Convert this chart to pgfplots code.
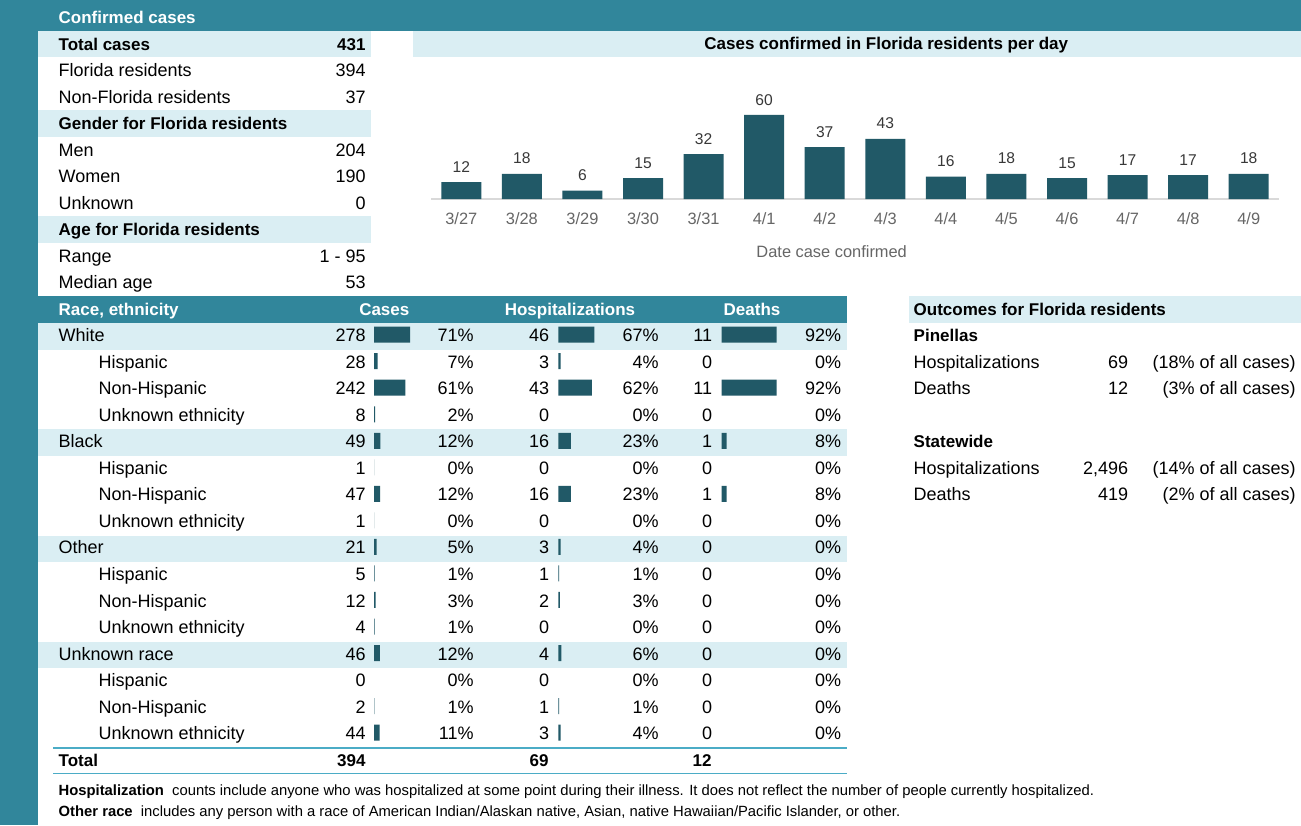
\documentclass[border=0pt]{standalone}
\usepackage{fontspec}
\setmainfont{Liberation Sans}
\usepackage{pgfplots}
\usepackage{pgfplotstable}
\pgfplotsset{compat=1.18}
\definecolor{teal1}{HTML}{31869B}
\definecolor{light1}{HTML}{DAEEF3}
\definecolor{bar1}{HTML}{215967}
\definecolor{line1}{HTML}{4BACC6}
\definecolor{tickgray}{HTML}{666666}
\definecolor{lab}{HTML}{383838}
\definecolor{basegray}{HTML}{D9D9D9}
\newcommand\rf{\fontsize{9}{10}\selectfont}
\newcommand\hb{\fontsize{8.5}{10}\selectfont\bfseries}
\newcommand\fn{\fontsize{7.4}{8}\selectfont}

\pgfplotstableread{
idx n
0 12
1 18
2 6
3 15
4 32
5 60
6 37
7 43
8 16
9 18
10 15
11 17
12 17
13 18
}\dailydata

\pgfplotstableread{
row cases hosp deaths
0 278 46 11
1 28 3 0
2 242 43 11
3 8 0 0
4 49 16 1
5 1 0 0
6 47 16 1
7 1 0 0
8 21 3 0
9 5 1 0
10 12 2 0
11 4 0 0
12 46 4 0
13 0 0 0
14 2 1 0
15 44 3 0
}\racedata

\pgfplotsset{minibar/.style={xbar, bar width=8pt, bar shift=0pt, scale only axis,
  height=212.25pt, ymin=-0.5, ymax=15.5, y dir=reverse, xmin=0, enlargelimits=false,
  hide axis, anchor=north west, clip=false,
  x filter/.expression={x==0 ? nan : x}}}

\begin{document}
\begin{tikzpicture}
\begin{scope}[x=0.5pt,y=-0.5pt,every node/.style={inner sep=0pt}]
% background and frame bands
\fill[white] (0,0) rectangle (1301,825);
\fill[teal1] (0,0) rectangle (1301,30.7);
\fill[teal1] (0,0) rectangle (38,825);
\fill[light1] (38,30.7) rectangle (371,56.7);
\fill[light1] (38,110) rectangle (371,136.5);
\fill[light1] (38,216) rectangle (371,242.5);
\fill[light1] (413.3,30.7) rectangle (1301,57);
\fill[teal1] (38,296) rectangle (847,322.5);
\foreach \k in {0,4,8,12}{
  \pgfmathsetmacro\yy{341.7+26.53*\k}
  \fill[light1] (38,\yy-18.4) rectangle (847,\yy+8.1);
}
\fill[light1] (909.3,296) rectangle (1301,322.5);
% top summary
\node[anchor=base west,text=white,font=\hb] at (58.3,23.3) {Confirmed cases};
\node[anchor=base west,font=\hb] at (58.3,50.3) {Total cases};
\node[anchor=base east,font=\hb] at (366,50.3) {431};
\node[anchor=base west,font=\rf] at (58.3,76.8) {Florida residents};
\node[anchor=base east,font=\rf] at (366,76.8) {394};
\node[anchor=base west,font=\rf] at (58.3,103.3) {Non-Florida residents};
\node[anchor=base east,font=\rf] at (366,103.3) {37};
\node[anchor=base west,font=\hb] at (58.3,129.8) {Gender for Florida residents};
\node[anchor=base west,font=\rf] at (58.3,156.3) {Men};
\node[anchor=base east,font=\rf] at (366,156.3) {204};
\node[anchor=base west,font=\rf] at (58.3,182.8) {Women};
\node[anchor=base east,font=\rf] at (366,182.8) {190};
\node[anchor=base west,font=\rf] at (58.3,209.3) {Unknown};
\node[anchor=base east,font=\rf] at (366,209.3) {0};
\node[anchor=base west,font=\hb] at (58.3,235.8) {Age for Florida residents};
\node[anchor=base west,font=\rf] at (58.3,262.3) {Range};
\node[anchor=base east,font=\rf] at (366,262.3) {1 - 95};
\node[anchor=base west,font=\rf] at (58.3,288.8) {Median age};
\node[anchor=base east,font=\rf] at (366,288.8) {53};
% chart title
\node[anchor=base,font=\hb] at (886.3,49.3) {Cases confirmed in Florida residents per day};
% race table header
\node[anchor=base west,text=white,font=\hb] at (58.3,315.7) {Race, ethnicity};
\node[anchor=base,text=white,font=\hb] at (384.3,315.7) {Cases};
\node[anchor=base,text=white,font=\hb] at (570,315.7) {Hospitalizations};
\node[anchor=base,text=white,font=\hb] at (752,315.7) {Deaths};
\foreach \k/\nm/\ind/\c/\cp/\h/\hp/\d/\dp in {
0/White/0/278/71/46/67/11/92,
1/Hispanic/1/28/7/3/4/0/0,
2/Non-Hispanic/1/242/61/43/62/11/92,
3/Unknown ethnicity/1/8/2/0/0/0/0,
4/Black/0/49/12/16/23/1/8,
5/Hispanic/1/1/0/0/0/0/0,
6/Non-Hispanic/1/47/12/16/23/1/8,
7/Unknown ethnicity/1/1/0/0/0/0/0,
8/Other/0/21/5/3/4/0/0,
9/Hispanic/1/5/1/1/1/0/0,
10/Non-Hispanic/1/12/3/2/3/0/0,
11/Unknown ethnicity/1/4/1/0/0/0/0,
12/Unknown race/0/46/12/4/6/0/0,
13/Hispanic/1/0/0/0/0/0/0,
14/Non-Hispanic/1/2/1/1/1/0/0,
15/Unknown ethnicity/1/44/11/3/4/0/0}{
  \pgfmathsetmacro\yy{341.7+26.53*\k}
  \pgfmathsetmacro\xx{\ind==1 ? 98.3 : 58.3}
  \node[anchor=base west,font=\rf] at (\xx,\yy) {\nm};
  \node[anchor=base east,font=\rf] at (366,\yy) {\c};
  \node[anchor=base east,font=\rf] at (474,\yy) {\cp\%};
  \node[anchor=base east,font=\rf] at (549.5,\yy) {\h};
  \node[anchor=base east,font=\rf] at (659,\yy) {\hp\%};
  \node[anchor=base east,font=\rf] at (712.5,\yy) {\d};
  \node[anchor=base east,font=\rf] at (841.5,\yy) {\dp\%};
}
% totals
\draw[line1,line width=0.8pt] (53,747.7) -- (847,747.7);
\draw[line1,line width=0.8pt] (53,773.5) -- (847,773.5);
\node[anchor=base west,font=\hb] at (58.3,766.7) {Total};
\node[anchor=base east,font=\hb] at (366,766.7) {394};
\node[anchor=base east,font=\hb] at (549,766.7) {69};
\node[anchor=base east,font=\hb] at (712,766.7) {12};
% footnotes
\node[anchor=base west,font=\fn] at (58.3,795) {\textbf{Hospitalization}\ \ counts include anyone who was hospitalized at some point during their illness. It does not reflect the number of people currently hospitalized.};
\node[anchor=base west,font=\fn] at (58.3,816) {\textbf{Other race}\ \ includes any person with a race of American Indian/Alaskan native, Asian, native Hawaiian/Pacific Islander, or other.};
% outcomes
\node[anchor=base west,font=\hb] at (913.3,315.7) {Outcomes for Florida residents};
\node[anchor=base west,font=\hb] at (913.3,341.7) {Pinellas};
\node[anchor=base west,font=\rf] at (913.3,368.2) {Hospitalizations};
\node[anchor=base east,font=\rf] at (1128.5,368.2) {69};
\node[anchor=base east,font=\rf] at (1296,368.2) {(18\% of all cases)};
\node[anchor=base west,font=\rf] at (913.3,394.8) {Deaths};
\node[anchor=base east,font=\rf] at (1128.5,394.8) {12};
\node[anchor=base east,font=\rf] at (1296,394.8) {(3\% of all cases)};
\node[anchor=base west,font=\hb] at (913.3,447.8) {Statewide};
\node[anchor=base west,font=\rf] at (913.3,474.4) {Hospitalizations};
\node[anchor=base east,font=\rf] at (1128.5,474.4) {2,496};
\node[anchor=base east,font=\rf] at (1296,474.4) {(14\% of all cases)};
\node[anchor=base west,font=\rf] at (913.3,500.9) {Deaths};
\node[anchor=base east,font=\rf] at (1128.5,500.9) {419};
\node[anchor=base east,font=\rf] at (1296,500.9) {(2\% of all cases)};
\end{scope}

% daily bar chart
\begin{axis}[at={(215.5pt,-99.5pt)}, anchor=south west, scale only axis,
  width=424pt, height=42pt, xmin=-0.5, xmax=13.5, ymin=0, ymax=60,
  ybar, bar width=20pt, bar shift=0pt,
  axis x line*=bottom, axis y line=none,
  x axis line style={draw=basegray, line width=1pt},
  xtick={0,...,13},
  xticklabels={3/27,3/28,3/29,3/30,3/31,4/1,4/2,4/3,4/4,4/5,4/6,4/7,4/8,4/9},
  major tick length=0pt,
  xticklabel style={anchor=base, inner sep=0pt, yshift=-12.5pt, font=\fontsize{8.2}{9}\selectfont, text=tickgray},
  ytick=\empty,
  nodes near coords,
  every node near coord/.append style={anchor=south, inner sep=0pt, yshift=4.7pt, font=\fontsize{7.8}{8}\selectfont, text=lab},
  /pgf/number format/assume math mode=true,
  xlabel={Date case confirmed},
  xlabel style={at={(axis description cs:0.4725,0)}, anchor=base, inner sep=0pt, yshift=-29.1pt, font=\fontsize{8.2}{9}\selectfont, text=tickgray},
  clip=false]
\addplot[fill=bar1, draw=none] table[x=idx, y=n] {\dailydata};
\end{axis}

% mini bars
\begin{axis}[minibar, at={(187pt,-160.7pt)}, width=18pt, xmax=278]
\addplot[fill=bar1, draw=none] table[x=cases, y=row] {\racedata};
\end{axis}
\begin{axis}[minibar, at={(279.15pt,-160.7pt)}, width=18pt, xmax=46]
\addplot[fill=bar1, draw=none] table[x=hosp, y=row] {\racedata};
\end{axis}
\begin{axis}[minibar, at={(360.85pt,-160.7pt)}, width=27.5pt, xmax=11]
\addplot[fill=bar1, draw=none] table[x=deaths, y=row] {\racedata};
\end{axis}

\pgfresetboundingbox
\path[use as bounding box] (0,0) rectangle (650.5pt,-412.5pt);
\end{tikzpicture}
\end{document}
